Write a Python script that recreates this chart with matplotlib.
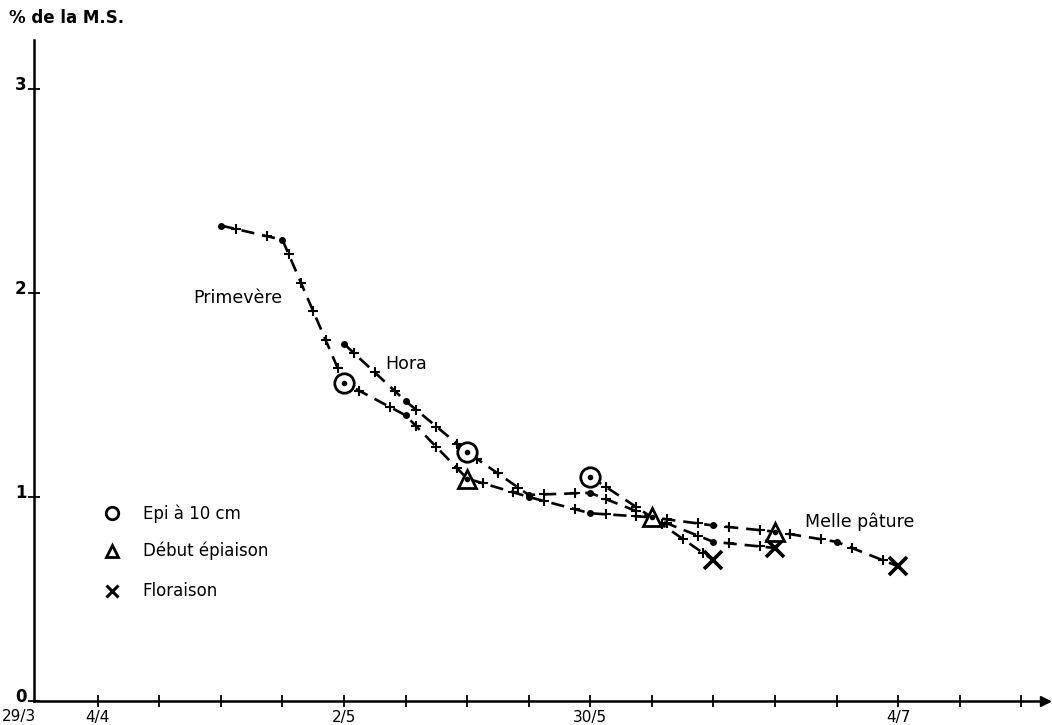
import numpy as np
import pandas as pd
import matplotlib
matplotlib.use("Agg")
import matplotlib.pyplot as plt
import matplotlib.dates as mdates
import matplotlib.transforms as mtransforms

plt.rcParams['font.family'] = ['DejaVu Sans']

ANNEE = "1979"

# releves hebdomadaires (date, % de la M.S.)
dates_prim = ["18/4", "25/4", "2/5", "9/5", "16/5", "23/5", "30/5", "6/6", "13/6"]
val_prim = [2.33, 2.26, 1.56, 1.40, 1.09, 1.00, 0.92, 0.90, 0.69]

dates_hora = ["2/5", "9/5", "16/5", "23/5", "30/5", "6/6", "13/6", "20/6"]
val_hora = [1.75, 1.47, 1.22, 1.01, 1.02, 0.90, 0.78, 0.75]

dates_melle = ["30/5", "6/6", "13/6", "20/6", "27/6", "4/7"]
val_melle = [1.10, 0.90, 0.86, 0.83, 0.78, 0.66]

# stades : indice du releve (epi a 10 cm, debut epiaison, floraison)
stades_prim = [2, 4, 8]
stades_hora = [2, 5, 7]
stades_melle = [0, 3, 5]

legende = ["Epi à 10 cm", "Début épiaison", "Floraison"]
noms = ["Primevère", "Hora", "Melle pâture"]

ticks_lab = {"4/4": "4/4", "2/5": "2/5", "30/5": "30/5", "4/7": "4/7"}


def todate(liste):
    return mdates.date2num(pd.to_datetime([d + "/" + ANNEE for d in liste], format="%d/%m/%Y"))


fig = plt.figure(figsize=(10.52, 7.25), dpi=100)
ax = fig.add_axes([0.0323, 0.0331, 0.961, 0.912])

d44 = todate(["4/4"])[0]
ax.set_xlim(d44 - 7.25, d44 + 107.7)
ax.set_ylim(0, 3.24)

for s in ["top", "right"]:
    ax.spines[s].set_visible(False)
for s in ["left", "bottom"]:
    ax.spines[s].set_linewidth(1.8)

ax.plot(1, 0, ">k", ms=7, transform=ax.get_yaxis_transform(), clip_on=False)
ax.plot(0, 1, "^k", ms=7, transform=ax.get_xaxis_transform(), clip_on=False)

# axe x : un trait par semaine a partir du 4/4
semaines = d44 + 7 * np.arange(0, 16)
ax.set_xticks(semaines)
lab = []
for t in semaines:
    cle = mdates.num2date(t).strftime("%-d/%-m")
    lab.append(ticks_lab.get(cle, ""))
ax.set_xticklabels(lab, fontsize=11)
ax.tick_params(axis="x", direction="inout", length=9, width=1.3, pad=2)
ax.text(-0.015, -0.012, "29/3", transform=ax.transAxes, ha="center", va="top", fontsize=11)

ax.set_yticks([0, 1, 2, 3])
ax.set_yticklabels(["0", "1", "2", "3"], fontsize=12, fontweight="bold")
ax.tick_params(axis="y", direction="inout", length=9, width=1.3, pad=1)
decal = mtransforms.ScaledTranslation(0, 3 / 72, fig.dpi_scale_trans)
for t in ax.get_yticklabels():
    t.set_va("center")
    t.set_transform(t.get_transform() + decal)

fig.text(0.009, 0.975, "% de la M.S.", fontsize=12, fontweight="bold", va="center")

series = [(dates_prim, val_prim, stades_prim),
          (dates_hora, val_hora, stades_hora),
          (dates_melle, val_melle, stades_melle)]

for dates, vals, st in series:
    x = todate(dates)
    y = np.array(vals)
    ax.plot(x, y, color="k", lw=1.9, ls=(0, (5, 3)), zorder=2)
    fin = [i for i in range(len(x)) if i != st[2]]
    ax.plot(x[fin], y[fin], "o", color="k", ms=4, zorder=3)
    # petites croix le long du trait
    pts = ax.transData.transform(np.column_stack([x, y]))
    cx, cy = [], []
    for i in range(len(pts) - 1):
        l = np.hypot(*(pts[i + 1] - pts[i]))
        n = max(1, int(round(l / 30)))
        for k in range(n):
            f = (k + 0.5) / n
            cx.append(x[i] + f * (x[i + 1] - x[i]))
            cy.append(y[i] + f * (y[i + 1] - y[i]))
    ax.plot(cx, cy, "+", color="k", ms=6.5, mew=1.5, zorder=3)
    ax.plot(x[st[0]], y[st[0]], "o", mfc="white", mec="k", mew=2, ms=14, zorder=4)
    ax.plot(x[st[0]], y[st[0]], "o", color="k", ms=3, zorder=5)
    ax.plot(x[st[1]], y[st[1]], "^", mfc="white", mec="k", mew=2, ms=13, zorder=4)
    ax.plot(x[st[1]], y[st[1]], "o", color="k", ms=3, zorder=5)
    ax.plot(x[st[2]], y[st[2]], "x", color="k", ms=13, mew=2.6, zorder=4)

# noms des varietes
ax.text(d44 + 10.9, 1.975, noms[0], fontsize=12.5, ha="left", va="center")
ax.text(d44 + 32.7, 1.65, noms[1], fontsize=12.5, ha="left", va="center")
ax.text(d44 + 80.4, 0.88, noms[2], fontsize=12.5, ha="left", va="center")

# legende
leg_y = [0.92, 0.735, 0.54]
leg_m = ["o", "^", "x"]
leg_x = d44 + 1.6
for yy, m, t in zip(leg_y, leg_m, legende):
    if m == "x":
        ax.plot(leg_x, yy, m, color="k", ms=9, mew=2.2, clip_on=False)
    else:
        ax.plot(leg_x, yy, m, mfc="white", mec="k", mew=2, ms=9)
    ax.text(leg_x + 3.5, yy, t, fontsize=12, va="center", ha="left")

fig.savefig("out.png", dpi=100)
